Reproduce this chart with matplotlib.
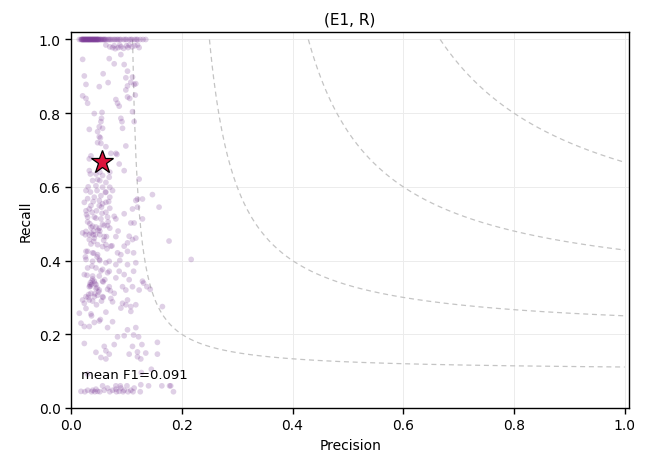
import numpy as np
import matplotlib
matplotlib.use("Agg")
import matplotlib.pyplot as plt

# Per-sample precision / recall values
precision_top = [0.015, 0.018, 0.020, 0.022, 0.024, 0.026, 0.028, 0.030, 0.032, 0.034,
                 0.036, 0.038, 0.040, 0.042, 0.044, 0.046, 0.048, 0.050, 0.052, 0.055,
                 0.058, 0.060, 0.063, 0.066, 0.070, 0.075, 0.080, 0.085, 0.090, 0.095,
                 0.100, 0.105, 0.110, 0.115, 0.120, 0.125, 0.130, 0.135,
                 0.019, 0.021, 0.023, 0.025, 0.027, 0.029, 0.031, 0.033, 0.035, 0.037,
                 0.039, 0.041, 0.043, 0.045, 0.047, 0.049, 0.053, 0.057, 0.062, 0.068,
                 0.072, 0.078, 0.083, 0.088, 0.098, 0.108, 0.118,
                 0.022, 0.026, 0.030, 0.034, 0.038, 0.042, 0.046, 0.050,
                 0.020, 0.024, 0.028, 0.032, 0.036, 0.040, 0.044, 0.048, 0.054, 0.060]
recall_top = [1.0] * len(precision_top)

precision_near = [0.063, 0.070, 0.075, 0.078, 0.080, 0.085, 0.088, 0.090, 0.095, 0.100,
                  0.103, 0.105, 0.110, 0.115, 0.120, 0.123]
recall_near = [0.985, 0.980, 0.978, 0.983, 0.975, 0.978, 0.985, 0.980, 0.976, 0.983,
               0.978, 0.985, 0.980, 0.983, 0.985, 0.978]

precision_spread = [
    0.021, 0.069, 0.078, 0.096, 0.090, 0.102, 0.024, 0.058, 0.027, 0.051,
    0.067, 0.099, 0.111, 0.108, 0.114, 0.117, 0.102, 0.099,
    0.021, 0.027, 0.030, 0.081, 0.084, 0.087, 0.102, 0.106, 0.116, 0.042,
    0.056, 0.055, 0.054, 0.051, 0.057, 0.033, 0.090, 0.092, 0.093, 0.111,
    0.114, 0.048, 0.051, 0.053, 0.048, 0.054, 0.063, 0.099, 0.036, 0.072,
    0.081, 0.083,
    0.033, 0.087, 0.096, 0.033, 0.035, 0.045, 0.052, 0.057, 0.069, 0.070,
    0.039, 0.052, 0.063, 0.045, 0.057, 0.070, 0.075, 0.027, 0.035, 0.047,
    0.063, 0.123, 0.042, 0.054, 0.030, 0.070, 0.024, 0.051, 0.063, 0.036,
    0.051, 0.057, 0.120, 0.117, 0.129, 0.147, 0.111, 0.120, 0.027, 0.038,
    0.046, 0.063, 0.070, 0.030, 0.042, 0.054, 0.066, 0.081, 0.096, 0.129,
    0.159,
    0.021, 0.027, 0.033, 0.039, 0.045, 0.051, 0.057, 0.066, 0.070, 0.052,
    0.060, 0.042, 0.033, 0.048, 0.063, 0.072, 0.081, 0.105, 0.111, 0.117,
    0.102, 0.096, 0.108, 0.114, 0.084, 0.090, 0.102, 0.113, 0.177, 0.217,
    0.027, 0.039, 0.048, 0.027, 0.039, 0.051, 0.063, 0.081, 0.102, 0.117,
    0.030, 0.045, 0.057, 0.069, 0.087, 0.096, 0.113, 0.024, 0.039, 0.051,
    0.042, 0.057, 0.066, 0.081, 0.105, 0.129, 0.045, 0.131,
    0.036, 0.038, 0.040, 0.035, 0.041, 0.037,
    0.033, 0.045, 0.051, 0.036, 0.027, 0.021, 0.024, 0.033, 0.042, 0.048,
    0.057, 0.069, 0.072, 0.075, 0.078, 0.093, 0.099, 0.111, 0.123, 0.137,
    0.143, 0.102, 0.093, 0.099, 0.108, 0.117, 0.090, 0.108, 0.165, 0.015,
    0.036, 0.051, 0.075, 0.018, 0.024, 0.033, 0.066, 0.102, 0.117, 0.084,
    0.096, 0.113, 0.122, 0.024, 0.060, 0.078, 0.111, 0.128, 0.156,
    0.045, 0.063, 0.069, 0.105, 0.120, 0.135, 0.156, 0.054, 0.063, 0.120,
    0.126, 0.030, 0.127, 0.145, 0.180,
    0.018, 0.030, 0.039, 0.045, 0.048, 0.060, 0.066, 0.075, 0.081, 0.087,
    0.090, 0.096, 0.108, 0.114, 0.126, 0.178, 0.081, 0.025, 0.037, 0.043,
    0.052, 0.070, 0.082, 0.094, 0.103, 0.112, 0.125, 0.185, 0.057, 0.089,
    0.101, 0.140, 0.164,
]
recall_spread = [
    0.946, 0.948, 0.934, 0.932, 0.959, 0.914, 0.901, 0.907, 0.878, 0.872,
    0.883, 0.896, 0.898, 0.884, 0.878, 0.880, 0.874, 0.863,
    0.847, 0.840, 0.827, 0.837, 0.827, 0.819, 0.844, 0.840, 0.849, 0.799,
    0.802, 0.786, 0.777, 0.763, 0.759, 0.756, 0.786, 0.777, 0.759, 0.804,
    0.777, 0.750, 0.736, 0.733, 0.720, 0.718, 0.709, 0.711, 0.684, 0.691,
    0.691, 0.688,
    0.676, 0.662, 0.644, 0.644, 0.635, 0.635, 0.640, 0.631, 0.626, 0.640,
    0.617, 0.617, 0.612, 0.603, 0.599, 0.599, 0.590, 0.590, 0.586, 0.590,
    0.586, 0.621, 0.572, 0.576, 0.568, 0.572, 0.558, 0.563, 0.558, 0.549,
    0.549, 0.554, 0.567, 0.563, 0.567, 0.579, 0.540, 0.545, 0.535, 0.531,
    0.535, 0.531, 0.542, 0.518, 0.518, 0.513, 0.518, 0.513, 0.527, 0.513,
    0.545,
    0.475, 0.479, 0.470, 0.493, 0.491, 0.488, 0.499, 0.495, 0.488, 0.470,
    0.465, 0.461, 0.457, 0.443, 0.443, 0.439, 0.465, 0.466, 0.457, 0.461,
    0.448, 0.439, 0.502, 0.502, 0.421, 0.416, 0.425, 0.421, 0.453, 0.403,
    0.425, 0.421, 0.416, 0.403, 0.398, 0.403, 0.394, 0.389, 0.389, 0.394,
    0.380, 0.380, 0.376, 0.371, 0.371, 0.362, 0.371, 0.362, 0.358, 0.358,
    0.344, 0.344, 0.367, 0.353, 0.348, 0.344, 0.335, 0.339,
    0.475, 0.345, 0.470, 0.340, 0.480, 0.335,
    0.329, 0.324, 0.320, 0.311, 0.302, 0.293, 0.284, 0.293, 0.302, 0.306,
    0.302, 0.329, 0.297, 0.288, 0.311, 0.329, 0.320, 0.329, 0.320, 0.329,
    0.322, 0.293, 0.284, 0.280, 0.275, 0.280, 0.271, 0.262, 0.275, 0.257,
    0.255, 0.236, 0.234, 0.230, 0.221, 0.221, 0.218, 0.212, 0.218, 0.193,
    0.196, 0.198, 0.193, 0.175, 0.167, 0.172, 0.167, 0.172, 0.178,
    0.151, 0.155, 0.146, 0.146, 0.152, 0.149, 0.146, 0.137, 0.133, 0.139,
    0.133, 0.092, 0.096, 0.105, 0.060,
    0.045, 0.048, 0.048, 0.051, 0.045, 0.048, 0.054, 0.048, 0.051, 0.045,
    0.054, 0.048, 0.048, 0.054, 0.063, 0.060, 0.060, 0.044, 0.044, 0.044,
    0.044, 0.044, 0.044, 0.044, 0.044, 0.044, 0.044, 0.044, 0.060, 0.060,
    0.060, 0.060, 0.060,
]

# Dense core of the cloud
precision_core = [
    0.048, 0.031, 0.062, 0.040, 0.055, 0.028, 0.067, 0.036, 0.044, 0.059,
    0.034, 0.052, 0.026, 0.064, 0.041, 0.057, 0.030, 0.047, 0.069, 0.038,
    0.054, 0.029, 0.061, 0.043, 0.035, 0.066, 0.050, 0.032, 0.058, 0.039,
    0.046, 0.027, 0.063, 0.037, 0.053, 0.042, 0.068, 0.033, 0.056, 0.045,
    0.030, 0.060, 0.049, 0.036, 0.065, 0.041, 0.026, 0.052, 0.039, 0.058,
    0.034, 0.047, 0.071, 0.043, 0.031, 0.055, 0.078, 0.085, 0.074, 0.088,
]
recall_core = [
    0.620, 0.600, 0.585, 0.560, 0.545, 0.525, 0.505, 0.490, 0.470, 0.455,
    0.500, 0.480, 0.470, 0.465, 0.452, 0.438, 0.425, 0.410, 0.398, 0.385,
    0.372, 0.360, 0.348, 0.338, 0.330, 0.322, 0.315, 0.308, 0.300, 0.290,
    0.280, 0.270, 0.260, 0.250, 0.240, 0.232, 0.560, 0.540, 0.528, 0.515,
    0.505, 0.495, 0.482, 0.445, 0.432, 0.420, 0.410, 0.400, 0.350, 0.342,
    0.334, 0.326, 0.318, 0.310, 0.300, 0.290, 0.520, 0.480, 0.440, 0.400,
]

precision = np.array(precision_top + precision_near + precision_spread + precision_core)
recall = np.array(recall_top + recall_near + recall_spread + recall_core)

mean_precision = 0.056
mean_recall = 0.668
mean_f1 = 0.091
iso_f1_levels = [0.2, 0.4, 0.6, 0.8]

fig = plt.figure(figsize=(6.48, 4.60), dpi=100)
ax = fig.add_axes([0.1096, 0.111, 0.8614, 0.817])

ax.grid(True, color="#ececec", linewidth=0.7, zorder=0)
ax.set_axisbelow(True)

# iso-F1 contours
for f in iso_f1_levels:
    p = np.linspace(f / (2 - f), 1.0, 300)
    r = f * p / (2 * p - f)
    ax.plot(p, r, linestyle=(0, (4, 3)), color="#c4c4c4", linewidth=0.9, zorder=1)

ax.scatter(precision, recall, s=17, color="#7d3c98", alpha=0.24,
           edgecolors="none", zorder=2)

ax.plot([mean_precision], [mean_recall], marker="*", markersize=17,
        color="#dc143c", markeredgecolor="black", markeredgewidth=0.9,
        linestyle="none", zorder=4)

ax.text(0.018, 0.092, f"mean F1={mean_f1:.3f}", fontsize=9.5,
        ha="left", va="center", zorder=5)

ax.set_xlim(0, 1.008)
ax.set_ylim(0, 1.02)
ax.set_xticks([0.0, 0.2, 0.4, 0.6, 0.8, 1.0])
ax.set_yticks([0.0, 0.2, 0.4, 0.6, 0.8, 1.0])
ax.tick_params(labelsize=10, length=4, width=1)
for s in ax.spines.values():
    s.set_linewidth(1.0)
    s.set_color("black")

ax.set_xlabel("Precision", fontsize=10)
ax.set_ylabel("Recall", fontsize=10)
ax.set_title("(E1, R)", fontsize=11)

fig.savefig("out.png", dpi=100)
